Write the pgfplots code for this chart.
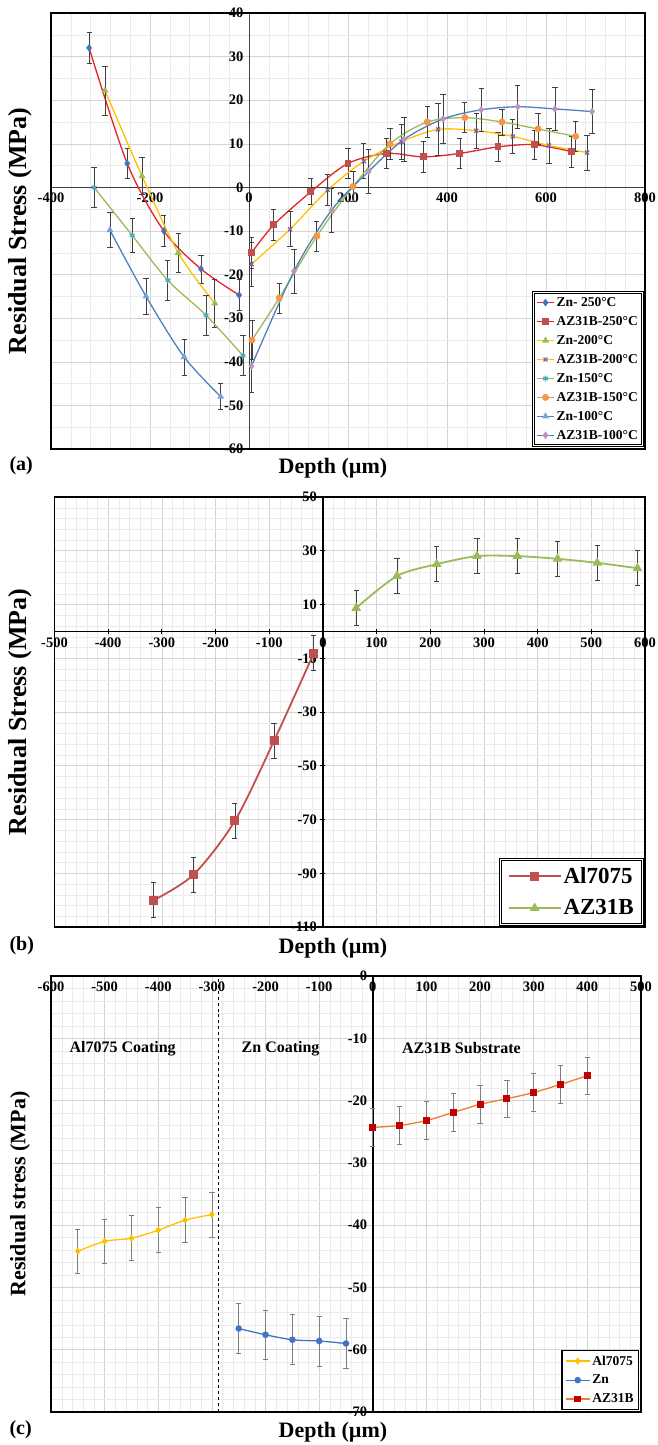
\documentclass[border=0pt]{standalone}
\usepackage{fontspec}
\setmainfont{Liberation Serif}
\usepackage{pgfplots}
\pgfplotsset{compat=1.18}

\definecolor{exred}{HTML}{E3242B}
\definecolor{exblue}{HTML}{4472C4}
\definecolor{exbrick}{HTML}{C0504D}
\definecolor{exgold}{HTML}{FFC000}
\definecolor{exgreen}{HTML}{9BBB59}
\definecolor{expurple}{HTML}{8064A2}
\definecolor{excyan}{HTML}{4BACC6}
\definecolor{exorange}{HTML}{F79646}
\definecolor{exsteel}{HTML}{4F81BD}
\definecolor{exsky}{HTML}{7BA3DB}
\definecolor{exmauve}{HTML}{B996BD}
\definecolor{examber}{HTML}{ED7D31}
\definecolor{exdark}{HTML}{C00000}
\definecolor{ebar}{HTML}{404040}
\definecolor{ebarlight}{HTML}{7F7F7F}

\newcommand{\tickfont}{\bfseries\fontsize{14.5bp}{16bp}\selectfont}
\newcommand{\labfont}{\bfseries\fontsize{22bp}{26bp}\selectfont}
\newcommand{\ylabfont}{\bfseries\fontsize{26bp}{30bp}\selectfont}

\pgfplotsset{
  panel/.style={
    scale only axis, anchor=north west, clip=false,
    axis lines=middle,
    axis line style={-, line width=0.9bp, black!75},
    grid=both,
    major grid style={line width=0.6bp, draw=black!17},
    minor grid style={line width=0.4bp, draw=black!8},
    tick style={draw=none},
    ticklabel style={font=\tickfont},
    /pgf/number format/assume math mode=true,
    hide obscured x ticks=false, hide obscured y ticks=false,
    legend cell align=left,
  },
  ser/.style n args={3}{color=#1, line width=1.3bp, smooth, mark=#2,
    mark size=2.8bp, mark options={solid, draw=#3, fill=#3}},
  ebars/.style={error bars/.cd, y dir=both, y explicit,
    error bar style={line width=0.7bp, #1},
    error mark options={rotate=90, line width=0.7bp, #1, mark size=2.6bp}},
}

\begin{document}
\begin{tikzpicture}
\useasboundingbox (0bp,0bp) rectangle (658bp,-1445bp);

% ---------------- (a) residual stress after heat treatment ----------------
\begin{axis}[panel, at={(51bp,-13bp)}, width=594bp, height=436bp,
  xmin=-400, xmax=800, ymin=-60, ymax=40,
  xtick={-400,-200,...,800}, ytick={-60,-50,...,40},
  minor x tick num=4, minor y tick num=1,
  legend style={at={(0.997,0.007)}, anchor=south east, draw=black,
    line width=0.8bp, double=white, double distance=1.2bp, fill=white,
    font=\bfseries\fontsize{13.5bp}{15bp}\selectfont, row sep=4.5bp,
    inner xsep=3bp, inner ysep=3bp},
]
\addplot[ser={exred}{diamond*}{exblue}, ebars=ebar] coordinates {
 (-323,32) +- (0,3.5) (-246,5.5) +- (0,3.5) (-172,-10) +- (0,3.5)
 (-97,-18.7) +- (0,3.2) (-20,-24.7) +- (0,3.5)};
\addlegendentry{Zn- 250°C}
\addplot[ser={exred}{square*}{exbrick}, ebars=ebar] coordinates {
 (5,-15) +- (0,3.5) (50,-8.6) +- (0,3.5) (125,-1) +- (0,3) (200,5.5) +- (0,3.5)
 (278,7.8) +- (0,3.5) (352,7) +- (0,3.5) (426,7.8) +- (0,3.5) (503,9.3) +- (0,3.3)
 (576,9.8) +- (0,3.3) (652,8.2) +- (0,3.6)};
\addlegendentry{AZ31B-250°C}
\addplot[ser={exgold}{triangle*}{exgreen}, ebars=ebar] coordinates {
 (-291,22.2) +- (0,5.6) (-216,2.6) +- (0,4.3) (-143,-15) +- (0,4.5) (-69,-26.6) +- (0,5.5)};
\addlegendentry{Zn-200°C}
\addplot[ser={exgold}{x}{expurple}, ebars=ebar] coordinates {
 (5,-17.6) +- (0,5) (83,-9.6) +- (0,4) (159,-0.6) +- (0,3.5) (232,6) +- (0,4)
 (308,10.5) +- (0,4) (382,13.3) +- (0,6) (459,13) +- (0,4) (533,11.7) +- (0,4)
 (606,9.6) +- (0,4) (683,8) +- (0,4)};
\addlegendentry{AZ31B-200°C}
\addplot[ser={exgreen}{asterisk}{excyan}, ebars=ebar] coordinates {
 (-313,0) +- (0,4.5) (-236,-11) +- (0,3.8) (-164,-21.3) +- (0,4.5)
 (-87,-29.3) +- (0,4.6) (-12,-38.6) +- (0,4.6)};
\addlegendentry{Zn-150°C}
\addplot[ser={exgreen}{*}{exorange}, ebars=ebar] coordinates {
 (6,-35) +- (0,4.5) (61,-25.4) +- (0,3.5) (137,-11.2) +- (0,3.5) (210,0.2) +- (0,3.5)
 (285,10) +- (0,3.5) (360,15) +- (0,3.5) (436,16) +- (0,3.4) (511,15) +- (0,3)
 (584,13.4) +- (0,3.5) (660,11.7) +- (0,3.4)};
\addlegendentry{AZ31B-150°C}
\addplot[ser={exsteel}{triangle*}{exsky}, ebars=ebar] coordinates {
 (-281,-9.8) +- (0,4) (-208,-25) +- (0,4.1) (-131,-38.9) +- (0,4.1) (-57,-48) +- (0,3)};
\addlegendentry{Zn-100°C}
\addplot[ser={exsteel}{diamond*}{exmauve}, ebars=ebar] coordinates {
 (5,-41) +- (0,6) (91,-19.2) +- (0,5) (167,-5.2) +- (0,5) (242,3.7) +- (0,5)
 (313,11) +- (0,5) (392,15.7) +- (0,5.6) (469,17.8) +- (0,5) (543,18.5) +- (0,5)
 (618,18) +- (0,5) (693,17.4) +- (0,5)};
\addlegendentry{AZ31B-100°C}
\draw[line width=1.6bp] (rel axis cs:0,0) rectangle (rel axis cs:1,1);
\end{axis}
\node[rotate=90, font=\ylabfont] at (20bp,-231bp) {Residual Stress (MPa)};
\node[font=\labfont] at (333bp,-468bp) {Depth (µm)};
\node[anchor=west, font=\bfseries\fontsize{20bp}{22bp}\selectfont] at (6bp,-466bp) {(a)};

% ---------------- (b) Al7075 coating on AZ31B ----------------
\begin{axis}[panel, at={(54.5bp,-497bp)}, width=590.5bp, height=430bp,
  xmin=-500, xmax=600, ymin=-110, ymax=50,
  xtick={-500,-400,...,600}, ytick={-110,-90,...,50},
  minor x tick num=4, minor y tick num=4,
  axis line style={-, line width=1.2bp, black},
  tick style={draw=black, line width=0.8bp}, tick align=center,
  major tick length=5bp, minor tick length=0bp,
  legend image code/.code={\draw[mark repeat=2,mark phase=2]
    plot coordinates {(0bp,0bp) (26bp,0bp) (52bp,0bp)};},
  legend style={at={(0.997,0.005)}, anchor=south east, draw=black,
    line width=0.8bp, double=white, double distance=1.2bp, fill=white,
    font=\bfseries\fontsize{23bp}{25bp}\selectfont, row sep=11bp,
    inner xsep=7bp, inner ysep=6bp},
]
\addplot[color=exbrick, line width=1.8bp, smooth, mark=square*, mark size=3.6bp,
  mark options={solid, fill=exbrick}, ebars=ebar] coordinates {
 (-315,-100) +- (0,6.5) (-241,-90.5) +- (0,6.5) (-164,-70.5) +- (0,6.5)
 (-91,-40.7) +- (0,6.5) (-17,-8.1) +- (0,6.5)};
\addlegendentry{Al7075}
\addplot[color=exgreen, line width=1.8bp, smooth, mark=triangle*, mark size=3.8bp,
  mark options={solid, fill=exgreen}, ebars=ebar] coordinates {
 (62,8.7) +- (0,6.5) (138,20.6) +- (0,6.5) (212,25) +- (0,6.5) (287,28) +- (0,6.5)
 (362,28) +- (0,6.5) (437,27) +- (0,6.5) (511,25.5) +- (0,6.5) (586,23.5) +- (0,6.5)};
\addlegendentry{AZ31B}
\draw[line width=1.4bp] (rel axis cs:0,0) rectangle (rel axis cs:1,1);
\end{axis}
\node[rotate=90, font=\ylabfont] at (20bp,-712bp) {Residual Stress (MPa)};
\node[font=\labfont] at (333bp,-948bp) {Depth (µm)};
\node[anchor=west, font=\bfseries\fontsize{20bp}{22bp}\selectfont] at (6bp,-946bp) {(b)};

% ---------------- (c) through-thickness profile ----------------
\begin{axis}[panel, at={(51bp,-976bp)}, width=590bp, height=436bp,
  xmin=-600, xmax=500, ymin=-70, ymax=0,
  xtick={-600,-500,...,500}, ytick={-70,-60,...,0},
  minor x tick num=4, minor y tick num=4,
  axis line style={-, line width=1.8bp, black},
  legend image code/.code={\draw[mark repeat=2,mark phase=2]
    plot coordinates {(0bp,0bp) (12bp,0bp) (24bp,0bp)};},
  legend style={at={(0.997,0.005)}, anchor=south east, draw=black,
    line width=1.2bp, fill=white,
    font=\bfseries\fontsize{13.5bp}{15bp}\selectfont, row sep=4.5bp,
    inner xsep=3bp, inner ysep=3bp},
]
\draw[dashed, line width=0.9bp] (axis cs:-288,-70) -- (axis cs:-288,0);
\addplot[color=exgold, line width=1.3bp, smooth, mark=diamond*, mark size=2.6bp,
  mark options={solid, fill=exgold}, ebars=ebarlight] coordinates {
 (-550,-44.2) +- (0,3.6) (-500,-42.6) +- (0,3.6) (-450,-42.1) +- (0,3.6)
 (-400,-40.8) +- (0,3.6) (-350,-39.2) +- (0,3.6) (-300,-38.3) +- (0,3.6)};
\addlegendentry{Al7075}
\addplot[color=exblue, line width=1.3bp, smooth, mark=*, mark size=2.6bp,
  mark options={solid, fill=exblue}, ebars=ebarlight] coordinates {
 (-250,-56.6) +- (0,4) (-200,-57.6) +- (0,4) (-150,-58.4) +- (0,4)
 (-100,-58.6) +- (0,4) (-50,-59.0) +- (0,4)};
\addlegendentry{Zn}
\addplot[color=examber, line width=1.3bp, smooth, mark=square*, mark size=2.8bp,
  mark options={solid, draw=exdark, fill=exdark}, ebars=ebarlight] coordinates {
 (0,-24.3) +- (0,3) (50,-24.0) +- (0,3) (100,-23.2) +- (0,3) (150,-21.9) +- (0,3)
 (200,-20.6) +- (0,3) (250,-19.7) +- (0,3) (300,-18.7) +- (0,3)
 (350,-17.4) +- (0,3) (400,-16.0) +- (0,3)};
\addlegendentry{AZ31B}
\node[anchor=west, font=\bfseries\fontsize{16bp}{18bp}\selectfont] at (axis cs:-572,-11.6) {Al7075 Coating};
\node[anchor=west, font=\bfseries\fontsize{16bp}{18bp}\selectfont] at (axis cs:-251,-11.6) {Zn Coating};
\node[anchor=west, font=\bfseries\fontsize{16bp}{18bp}\selectfont] at (axis cs:48,-11.6) {AZ31B Substrate};
\draw[line width=1.4bp] (rel axis cs:0,0) rectangle (rel axis cs:1,1);
\end{axis}
\node[rotate=90, font=\labfont] at (20bp,-1194bp) {Residual stress (MPa)};
\node[font=\labfont] at (333bp,-1432bp) {Depth (µm)};
\node[anchor=west, font=\bfseries\fontsize{20bp}{22bp}\selectfont] at (6bp,-1430bp) {(c)};
\end{tikzpicture}
\end{document}
